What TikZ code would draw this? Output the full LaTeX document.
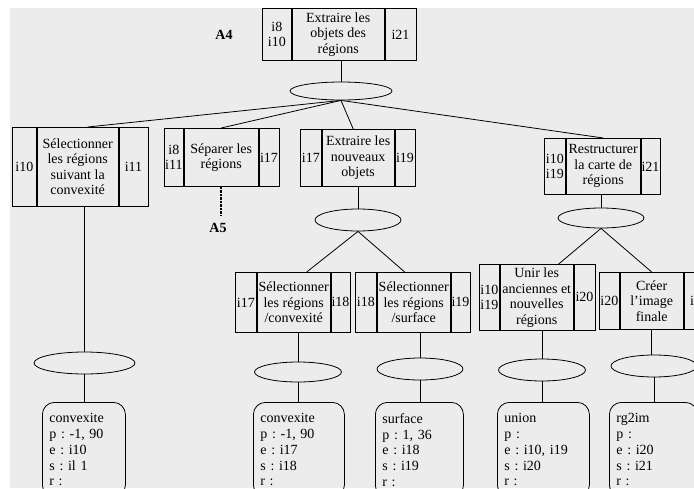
\documentclass[tikz,border=0pt]{standalone}
\usepackage{fontspec}
\setmainfont{Liberation Serif}
\usetikzlibrary{shapes.geometric}
\definecolor{bg}{HTML}{ECECEC}
\frenchspacing
\begin{document}
\begin{tikzpicture}[x=1pt,y=-1pt,
  cell/.style={draw, line width=0.8pt, inner sep=0pt, anchor=north west, align=center, font=\fontsize{14}{15.5}\selectfont},
  ell/.style={draw, ellipse, line width=0.8pt, inner sep=0pt},
  rbox/.style={draw, rounded corners=12pt, line width=0.8pt, anchor=north west, align=left, inner xsep=7pt, inner ysep=11pt, font=\fontsize{14}{15.8}\selectfont},
  link/.style={line width=0.8pt},
  lab/.style={inner sep=1pt, font=\bfseries\fontsize{14}{16}\selectfont}]
\useasboundingbox (0,0) rectangle (694,488);
\clip (0,0) rectangle (694,488);
\fill[bg] (10,8) rectangle (694,488);

% top box
\node[cell, minimum width=29, minimum height=52] (n0l) at (262,8) {i8\\i10};
\node[cell, minimum width=92, minimum height=52] (n0) at (n0l.north east) {Extraire les\\objets des\\régions};
\node[cell, minimum width=31, minimum height=52] (n0r) at (n0.north east) {i21};
\node[lab] (a4) at (224,35) {A4};
\node[ell, minimum width=102, minimum height=18] (e0) at (341,91) {};
\draw[link] (n0.south -| e0) -- (e0.north);

% level 1
\node[cell, minimum width=24, minimum height=79] (n1l) at (12,127) {i10};
\node[cell, minimum width=81, minimum height=79] (n1) at (n1l.north east) {Sélectionner\\les régions\\suivant la\\convexité};
\node[cell, minimum width=29, minimum height=79] (n1r) at (n1.north east) {i11};

\node[cell, minimum width=19, minimum height=58] (n2l) at (164,128) {i8\\i11};
\node[cell, minimum width=74, minimum height=58] (n2) at (n2l.north east) {Séparer les\\régions};
\node[cell, minimum width=20, minimum height=58] (n2r) at (n2.north east) {i17};

\node[cell, minimum width=21, minimum height=57] (n3l) at (300,129) {i17};
\node[cell, minimum width=72, minimum height=57] (n3) at (n3l.north east) {Extraire les\\nouveaux\\objets};
\node[cell, minimum width=20, minimum height=57] (n3r) at (n3.north east) {i19};

\node[cell, minimum width=21, minimum height=56] (n4l) at (544,138) {i10\\i19};
\node[cell, minimum width=74, minimum height=56] (n4) at (n4l.north east) {Restructurer\\la carte de\\régions};
\node[cell, minimum width=19, minimum height=56] (n4r) at (n4.north east) {i21};

\draw[link] (e0.south) -- ([xshift=10]n1.north);
\draw[link] (e0.south) -- (n2.north);
\draw[link] (e0.south) -- ([xshift=-5]n3.north);
\draw[link] (e0.south) -- (n4.north);

% A5
\node[lab] (a5) at (218,228) {A5};
\coordinate (a5end) at (220,216);
\draw[line width=1.6pt, dash pattern=on 2.5pt off 1pt] (n2.south) -- (n2.south |- a5end);

% level 1 ellipses
\node[ell, minimum width=101, minimum height=22] (e1) at (84.5,363) {};
\node[ell, minimum width=86, minimum height=22] (e3) at (358,220) {};
\node[ell, minimum width=86, minimum height=20] (e4) at (601,218) {};
\draw[link] (n1.south -| e1) -- (e1.north);
\draw[link] (n3.south -| e3) -- (e3.north);
\draw[link] (n4.south -| e4) -- (e4.north);

% level 2
\node[cell, minimum width=21, minimum height=60] (n5l) at (235,272) {i17};
\node[cell, minimum width=73, minimum height=60] (n5) at (n5l.north east) {Sélectionner\\les régions\\/convexité};
\node[cell, minimum width=19, minimum height=60] (n5r) at (n5.north east) {i18};

\node[cell, minimum width=21, minimum height=60] (n6l) at (355,272) {i18};
\node[cell, minimum width=73, minimum height=60] (n6) at (n6l.north east) {Sélectionner\\les régions\\/surface};
\node[cell, minimum width=19, minimum height=60] (n6r) at (n6.north east) {i19};

\node[cell, minimum width=20, minimum height=66] (n7l) at (479,264) {i10\\i19};
\node[cell, minimum width=73, minimum height=66] (n7) at (n7l.north east) {Unir les\\anciennes et\\nouvelles\\régions};
\node[cell, minimum width=21, minimum height=66] (n7r) at (n7.north east) {i20};

\node[cell, minimum width=20, minimum height=57] (n8l) at (599,272) {i20};
\node[cell, minimum width=63, minimum height=57] (n8) at (n8l.north east) {Créer\\l’image\\finale};
\node[cell, minimum width=30, minimum height=57] (n8r) at (n8.north east) {i21};

\draw[link] (e3.south) -- ([xshift=13]n5.north);
\draw[link] (e3.south) -- ([xshift=-9]n6.north);
\draw[link] (e4.south) -- ([xshift=22]n7.north);
\draw[link] (e4.south) -- (n8.north);

% level 2 ellipses
\node[ell, minimum width=87, minimum height=20] (e5) at (298,372) {};
\node[ell, minimum width=86, minimum height=22] (e6) at (420,369) {};
\node[ell, minimum width=87, minimum height=22] (e7) at (542,370) {};
\node[ell, minimum width=86, minimum height=22] (e8) at (654,366) {};
\draw[link] (n5.south -| e5) -- (e5.north);
\draw[link] (n6.south -| e6) -- (e6.north);
\draw[link] (n7.south -| e7) -- (e7.north);
\draw[link] (n8.south) -- (n8.south |- e8.north);

% rounded boxes
\node[rbox, text width=69] (r1) at (42,402) {convexite\\p : -1, 90\\e : i10\\s : il 1\\r :};
\node[rbox, text width=77] (r5) at (253,402) {convexite\\p : -1, 90\\e : i17\\s : i18\\r :};
\node[rbox, text width=74] (r6) at (375,402) {surface\\p : 1, 36\\e : i18\\s : i19\\r :};
\node[rbox, text width=78] (r7) at (497,402) {union\\p :\\e : i10, i19\\s : i20\\r :};
\node[rbox, text width=74] (r8) at (609,402) {rg2im\\p :\\e : i20\\s : i21\\r :};

\draw[link] (e1.south) -- (e1.south |- r1.north);
\draw[link] (e5.south) -- (e5.south |- r5.north);
\draw[link] (e6.south) -- (e6.south |- r6.north);
\draw[link] (e7.south) -- (e7.south |- r7.north);
\draw[link] (e8.south) -- (e8.south |- r8.north);
\end{tikzpicture}
\end{document}
